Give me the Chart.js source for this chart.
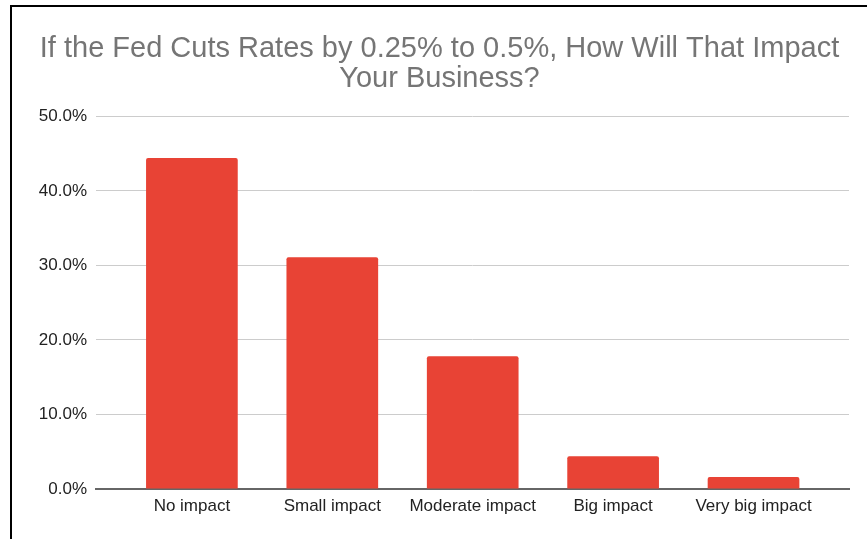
<!DOCTYPE html>
<html>
<head>
<meta charset="utf-8">
<title>Fed rate cut survey</title>
<script src="https://cdn.jsdelivr.net/npm/chart.js@4.4.1/dist/chart.umd.min.js"></script>
<style>
    html, body { margin: 0; padding: 0; background: #fff; }
    body { width: 867px; height: 539px; overflow: hidden; position: relative; }
    #frame {
        position: absolute; left: 10px; top: 5px; right: -10px; bottom: -10px;
        border-left: 2px solid #000; border-top: 2px solid #000;
    }
    #wrap { position: absolute; left: 12px; top: 7px; width: 855px; height: 532px; }
</style>
</head>
<body>
<div id="frame"></div>
<div id="wrap"><canvas id="chart"></canvas></div>
<script>
// survey answers, share of respondents in %
var categories = ['No impact', 'Small impact', 'Moderate impact', 'Big impact', 'Very big impact'];
var shares = [44.4, 31.1, 17.8, 4.4, 1.6];
var yTicks = [0, 10, 20, 30, 40, 50];

var FONT = '"Liberation Sans", Arial, Helvetica, sans-serif';

// bars sit on a linear x scale so the grid can run past the outer bars
var points = [];
for (var i = 0; i < categories.length; i++)
    points.push({x: i, y: shares[i]});

new Chart(document.getElementById('chart'), {
    type: 'bar',
    data: {
        datasets: [{
            data: points,
            backgroundColor: '#e84335',
            borderRadius: 2,
            barPercentage: 0.653,
            categoryPercentage: 1
        }]
    },
    options: {
        responsive: true,
        maintainAspectRatio: false,
        animation: false,
        layout: { padding: 0 },
        plugins: {
            legend: { display: false },
            tooltip: { enabled: false },
            title: {
                display: true,
                text: ['If the Fed Cuts Rates by 0.25% to 0.5%, How Will That Impact', 'Your Business?'],
                color: '#757575',
                font: { family: FONT, size: 29, weight: 'normal', lineHeight: 1.04 },
                padding: { top: 27, bottom: 22 }
            }
        },
        scales: {
            x: {
                type: 'linear',
                offset: false,
                min: -0.683,
                max: 4.68,
                grid: { display: false, drawTicks: false, offset: false },
                border: { display: true, color: '#666', width: 2 },
                afterBuildTicks: function (s) {
                    s.ticks = categories.map(function (c, i) { return {value: i}; });
                },
                afterFit: function (s) { s.height = 50; },
                ticks: {
                    padding: 7,
                    color: '#222',
                    font: { family: FONT, size: 17 },
                    maxRotation: 0,
                    autoSkip: false,
                    callback: function (v) { return categories[v]; }
                }
            },
            y: {
                min: 0,
                max: 50,
                afterBuildTicks: function (s) {
                    s.ticks = yTicks.map(function (v) { return {value: v}; });
                },
                afterFit: function (s) { s.width = 84; },
                grid: { color: '#cccccc', lineWidth: 1, drawTicks: false },
                border: { display: false },
                ticks: {
                    padding: 9,
                    color: '#222',
                    font: { family: FONT, size: 17 },
                    callback: function (v) { return v.toFixed(1) + '%'; }
                }
            },
            // empty strip on the right so the title stays centred on the canvas
            gap: {
                type: 'linear',
                position: 'right',
                display: true,
                grid: { display: false, drawTicks: false },
                border: { display: false },
                ticks: { display: false },
                afterFit: function (s) { s.width = 18; }
            }
        }
    }
});
</script>
</body>
</html>
